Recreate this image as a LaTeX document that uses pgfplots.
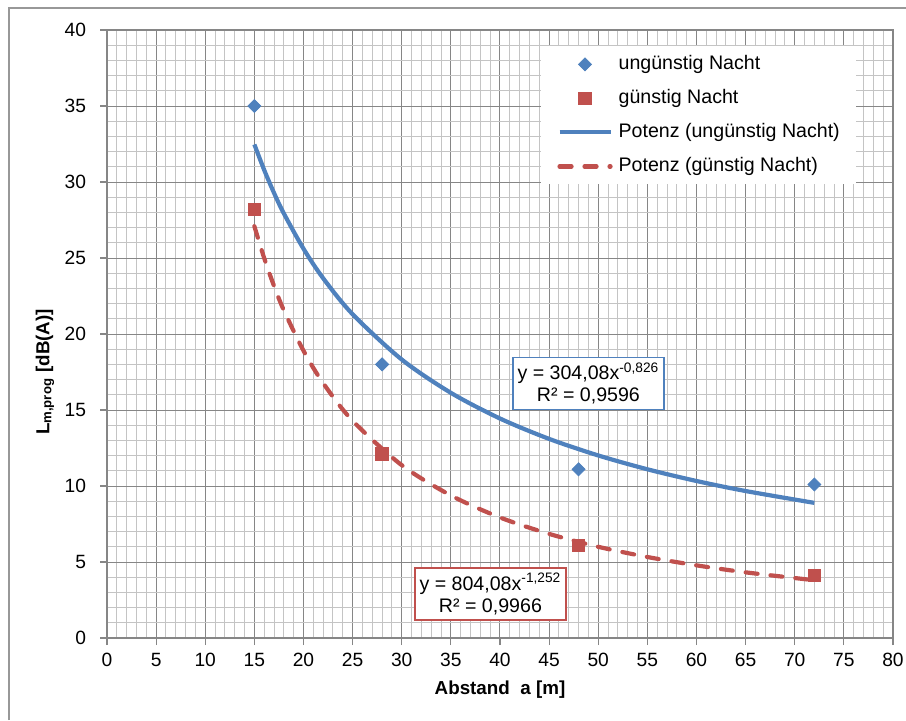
\documentclass[border=0pt]{standalone}
\usepackage{pgfplots}
\pgfplotsset{compat=1.18}
\usepackage{fontspec}
\setmainfont{Liberation Sans}
\definecolor{serblue}{HTML}{4F81BD}
\definecolor{serred}{HTML}{C0504D}
\definecolor{majgrid}{HTML}{868686}
\definecolor{mingrid}{HTML}{C4C4C4}
\begin{document}
\begin{tikzpicture}
\path[use as bounding box] (0,0) rectangle (453pt,360pt);
\draw[color=majgrid!85, line width=0.6pt] (4.5pt,0) -- (4.5pt,356pt) -- (453pt,356pt);
\begin{axis}[
  at={(53.5pt,41pt)}, anchor=south west,
  scale only axis, width=393pt, height=304pt,
  xmin=0, xmax=80, ymin=0, ymax=40,
  xtick distance=5, ytick distance=5,
  minor tick num=4,
  grid=both,
  major grid style={color=majgrid, line width=0.5pt},
  minor grid style={color=mingrid, line width=0.5pt},
  axis line style={color=majgrid, line width=0.6pt},
  tick style={color=majgrid, line width=0.6pt},
  major tick length=3.5pt, minor tick length=0pt,
  tick align=outside,
  xtick pos=bottom, ytick pos=left,
  /pgf/number format/assume math mode=true,
  xticklabel={\fontsize{9.6}{11}\selectfont\pgfmathprintnumber{\tick}},
  yticklabel={\fontsize{9.6}{11}\selectfont\pgfmathprintnumber{\tick}},
  yticklabel style={xshift=-3.5pt},
  xticklabel style={yshift=-0.5pt},
  xlabel={Abstand\ \ a [m]},
  xlabel style={font=\bfseries\fontsize{9.4}{11}\selectfont, at={(axis description cs:0.5,-0.0855)}, anchor=center},
  ylabel={L\textsubscript{m,prog} [dB(A)]},
  ylabel style={font=\bfseries\fontsize{9.4}{11}\selectfont, at={(axis description cs:-0.079,0.4375)}, anchor=center},
  legend cell align=left,
  legend style={at={(axis description cs:0.5522,0.9737)}, anchor=north west, draw=none, fill=white,
    font=\fontsize{9.8}{11}\selectfont, inner xsep=8pt, inner ysep=4.5pt, row sep=8pt, column sep=3pt,
    nodes={inner sep=0pt, text height=7pt, text depth=2pt}},
  legend image code/.code={\draw[mark repeat=2,mark phase=2,#1] plot coordinates {(0pt,0pt) (12.75pt,0pt) (25.5pt,0pt)};},
]
\addplot[only marks, color=serblue, mark=square*, mark size=2.3pt, mark options={rotate=45, fill=serblue, draw=serblue}]
  coordinates {(15,35) (28,18) (48,11.1) (72,10.1)};
\addlegendentry{ungünstig Nacht}
\addplot[only marks, color=serred, mark=square*, mark size=3.1pt, mark options={fill=serred, draw=serred}]
  coordinates {(15,28.2) (28,12.1) (48,6.1) (72,4.1)};
\addlegendentry{günstig Nacht}
\addplot[color=serblue, line width=2.1pt, smooth, no markers]
  coordinates {(15,32.47) (16,30.79) (17,29.28) (18,27.93) (20,25.61) (22,23.67) (25,21.30) (30,18.32) (35,16.13) (40,14.44) (45,13.10) (50,12.01) (55,11.10) (60,10.33) (65,9.67) (72,8.89)};
\addlegendentry{Potenz (ungünstig Nacht)}
\addplot[color=serred, line width=2.1pt, smooth, no markers, line cap=round, dash pattern=on 6pt off 6.5pt]
  coordinates {(15,27.09) (16,24.99) (17,23.16) (18,21.56) (20,18.90) (22,16.77) (25,14.29) (30,11.37) (35,9.38) (40,7.93) (45,6.85) (50,6.00) (55,5.33) (60,4.78) (65,4.32) (72,3.80)};
\addlegendentry{Potenz (günstig Nacht)}
\node[draw=serblue, fill=white, line width=0.6pt, align=center, font=\fontsize{9.8}{11}\selectfont,
  minimum width=75.5pt, minimum height=26pt, inner sep=1pt] at (axis cs:49.0,16.74)
  {y = 304,08x\textsuperscript{-0,826}\\R² = 0,9596};
\node[draw=serred, fill=white, line width=0.6pt, align=center, font=\fontsize{9.8}{11}\selectfont,
  minimum width=75.5pt, minimum height=26pt, inner sep=1pt] at (axis cs:39.03,2.89)
  {y = 804,08x\textsuperscript{-1,252}\\R² = 0,9966};
\end{axis}
\end{tikzpicture}
\end{document}
